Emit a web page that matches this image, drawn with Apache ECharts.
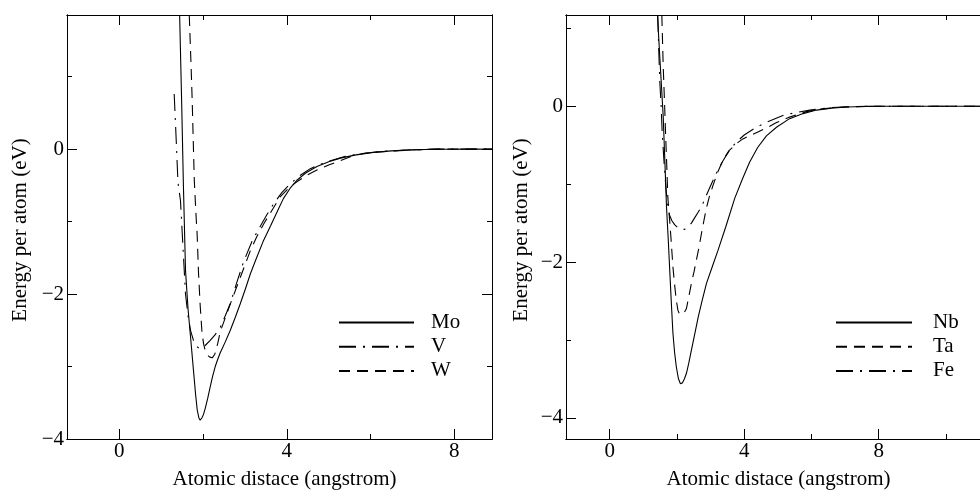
<!DOCTYPE html>
<html>
<head>
<meta charset="utf-8">
<script src="https://cdn.jsdelivr.net/npm/echarts@6/dist/echarts.min.js"></script>
<style>html,body{margin:0;padding:0;background:#fff}#chart{width:980px;height:496px}</style>
</head>
<body>
<div id="chart"></div>
<script>
// ---- data (x: atomic distance in angstrom, y: energy per atom in eV) ----
const moData = [[1.44,1.85],[1.49,0.6],[1.53,-0.5],[1.58,-1.67],[1.64,-2.2],[1.70,-2.59],[1.77,-3.05],[1.82,-3.38],[1.86,-3.6],[1.90,-3.71],[1.93,-3.74],[1.97,-3.71],[2.01,-3.66],[2.05,-3.58],[2.11,-3.44],[2.17,-3.28],[2.23,-3.13],[2.29,-3.0],[2.35,-2.9],[2.41,-2.81],[2.53,-2.66],[2.65,-2.5],[2.77,-2.32],[2.89,-2.13],[3.01,-1.93],[3.13,-1.72],[3.25,-1.54],[3.43,-1.28],[3.61,-1.06],[3.78,-0.85],[3.92,-0.68],[4.08,-0.54],[4.24,-0.43],[4.45,-0.33],[4.72,-0.24],[5.0,-0.175],[5.28,-0.125],[5.65,-0.08],[6.07,-0.045],[6.5,-0.025],[7.0,-0.01],[7.6,-0.003],[8.9,0]];
const vData = [[1.31,0.76],[1.36,0.1],[1.40,-0.46],[1.46,-0.71],[1.52,-1.35],[1.58,-2.0],[1.64,-2.3],[1.70,-2.5],[1.77,-2.64],[1.84,-2.72],[1.91,-2.75],[1.98,-2.74],[2.05,-2.71],[2.17,-2.64],[2.29,-2.56],[2.41,-2.46],[2.53,-2.3],[2.65,-2.13],[2.8,-1.85],[2.97,-1.55],[3.17,-1.27],[3.37,-1.06],[3.53,-0.9],[3.69,-0.75],[3.88,-0.6],[4.08,-0.48],[4.3,-0.37],[4.56,-0.27],[4.8,-0.21],[5.04,-0.16],[5.4,-0.1],[5.8,-0.06],[6.3,-0.03],[7.0,-0.01],[7.6,0],[8.9,0]];
const wData = [[1.67,1.85],[1.71,1.2],[1.74,0.67],[1.79,-0.43],[1.83,-0.9],[1.86,-1.2],[1.89,-1.7],[1.93,-2.15],[1.97,-2.5],[2.01,-2.68],[2.05,-2.78],[2.1,-2.84],[2.16,-2.87],[2.22,-2.88],[2.28,-2.83],[2.35,-2.68],[2.41,-2.52],[2.51,-2.36],[2.61,-2.2],[2.72,-2.03],[2.83,-1.86],[2.98,-1.63],[3.13,-1.4],[3.29,-1.2],[3.45,-1.03],[3.65,-0.84],[3.84,-0.66],[4.04,-0.54],[4.24,-0.45],[4.48,-0.36],[4.72,-0.29],[5.0,-0.22],[5.28,-0.16],[5.55,-0.1],[5.83,-0.06],[6.3,-0.035],[7.0,-0.012],[7.6,0],[8.9,0]];

const nbData = [[1.42,1.17],[1.5,0.55],[1.59,-0.12],[1.64,-0.7],[1.69,-1.3],[1.74,-1.7],[1.78,-2.06],[1.83,-2.5],[1.88,-2.91],[1.93,-3.16],[1.98,-3.34],[2.04,-3.49],[2.1,-3.56],[2.16,-3.55],[2.22,-3.5],[2.28,-3.43],[2.35,-3.3],[2.43,-3.13],[2.53,-2.92],[2.63,-2.71],[2.75,-2.49],[2.88,-2.27],[3.05,-2.06],[3.22,-1.85],[3.45,-1.55],[3.72,-1.18],[3.95,-0.93],[4.16,-0.72],[4.4,-0.53],[4.66,-0.38],[4.96,-0.27],[5.35,-0.16],[5.75,-0.095],[6.15,-0.05],[6.6,-0.025],[7.04,-0.01],[7.6,-0.003],[8.2,0],[11.3,0]];
const taData = [[1.55,1.17],[1.59,0.53],[1.63,0.05],[1.66,-0.33],[1.70,-0.8],[1.73,-1.18],[1.78,-1.45],[1.82,-1.68],[1.88,-2.06],[1.93,-2.29],[1.98,-2.49],[2.03,-2.62],[2.08,-2.67],[2.13,-2.68],[2.2,-2.66],[2.28,-2.6],[2.35,-2.45],[2.43,-2.27],[2.51,-2.12],[2.58,-1.97],[2.66,-1.8],[2.73,-1.63],[2.81,-1.45],[2.88,-1.3],[2.97,-1.15],[3.07,-1.02],[3.2,-0.86],[3.37,-0.69],[3.55,-0.57],[3.77,-0.48],[3.96,-0.42],[4.26,-0.36],[4.66,-0.28],[4.96,-0.21],[5.35,-0.14],[5.85,-0.07],[6.3,-0.035],[7.0,-0.01],[7.8,0],[11.3,0]];
const feData = [[1.43,1.17],[1.46,0.7],[1.49,0.31],[1.53,0.0],[1.56,-0.33],[1.61,-0.68],[1.66,-0.98],[1.70,-1.18],[1.74,-1.31],[1.78,-1.4],[1.85,-1.47],[1.93,-1.52],[2.03,-1.56],[2.13,-1.58],[2.23,-1.58],[2.33,-1.55],[2.43,-1.5],[2.53,-1.43],[2.63,-1.36],[2.73,-1.29],[2.83,-1.19],[2.97,-1.05],[3.17,-0.86],[3.37,-0.7],[3.57,-0.56],[3.77,-0.46],[4.0,-0.37],[4.36,-0.27],[4.7,-0.2],[5.15,-0.12],[5.55,-0.08],[5.95,-0.05],[6.5,-0.02],[7.2,-0.005],[8.0,0],[11.3,0]];

// tick labels / tick positions
const xMajorTicks = [0, 4, 8];
const xMinorTicksLeft = [2, 6];
const xMinorTicksRight = [2, 6, 10];
const yMajorTicks = [-4, -2, 0];
const yMinorTicks = [-3, -1, 1];

const leftNames = ['Mo', 'V', 'W'];
const rightNames = ['Nb', 'Ta', 'Fe'];
const xTitle = 'Atomic distace (angstrom)';
const yTitle = 'Energy per atom (eV)';

// ---- styling ----
const FONT = "'Liberation Serif', 'Times New Roman', serif";
const FS = 21;
const SOLID = 'solid';
const DASHED = [11, 7];
const DASHDOT = [17, 7, 2, 7];
const fmt = v => (v < 0 ? '\u2212' + (-v) : String(v));

function axis(kind, grid, pos, min, max, ticks, len, withLabels, name, extra) {
  const a = {
    type: 'value', gridIndex: grid, position: pos, min: min, max: max,
    axisLine: { show: true, onZero: false, lineStyle: { color: '#000', width: 1 } },
    axisTick: { show: true, inside: true, length: len, customValues: ticks, lineStyle: { color: '#000', width: 1 } },
    axisLabel: { show: withLabels, customValues: ticks, formatter: fmt, color: '#000', fontFamily: FONT, fontSize: FS, margin: kind === 'x' ? 2 : 3 },
    splitLine: { show: false }, minorTick: { show: false }, minorSplitLine: { show: false }
  };
  if (name) {
    a.name = name; a.nameLocation = 'middle';
    a.nameTextStyle = { color: '#000', fontFamily: FONT, fontSize: FS };
    Object.assign(a, extra || {});
  }
  return a;
}

const G0 = { xmin: -1.25, xmax: 8.9, ymin: -4, ymax: 1.85 };
const G1 = { xmin: -1.30, xmax: 11.34, ymin: -4.27, ymax: 1.17 };

const xAxes = [
  axis('x', 0, 'bottom', G0.xmin, G0.xmax, xMajorTicks, 10, true, xTitle, { nameGap: 30, nameTextStyle: { color: '#000', fontFamily: FONT, fontSize: FS, padding: [0, 0, 0, 10] } }),
  axis('x', 0, 'bottom', G0.xmin, G0.xmax, xMinorTicksLeft, 5, false),
  axis('x', 0, 'top', G0.xmin, G0.xmax, xMajorTicks, 10, false),
  axis('x', 0, 'top', G0.xmin, G0.xmax, xMinorTicksLeft, 5, false),
  axis('x', 1, 'bottom', G1.xmin, G1.xmax, xMajorTicks, 10, true, xTitle, { nameGap: 30 }),
  axis('x', 1, 'bottom', G1.xmin, G1.xmax, xMinorTicksRight, 5, false),
  axis('x', 1, 'top', G1.xmin, G1.xmax, xMajorTicks, 10, false),
  axis('x', 1, 'top', G1.xmin, G1.xmax, xMinorTicksRight, 5, false)
];
const yAxes = [
  axis('y', 0, 'left', G0.ymin, G0.ymax, yMajorTicks, 10, true, yTitle, { nameGap: 36, nameTextStyle: { color: '#000', fontFamily: FONT, fontSize: FS, padding: [0, 6, 0, 0] } }),
  axis('y', 0, 'left', G0.ymin, G0.ymax, yMinorTicks, 5, false),
  axis('y', 0, 'right', G0.ymin, G0.ymax, yMajorTicks, 10, false),
  axis('y', 0, 'right', G0.ymin, G0.ymax, yMinorTicks, 5, false),
  axis('y', 1, 'left', G1.ymin, G1.ymax, yMajorTicks, 10, true, yTitle, { nameGap: 34, nameTextStyle: { color: '#000', fontFamily: FONT, fontSize: FS, padding: [0, 6, 0, 0] } }),
  axis('y', 1, 'left', G1.ymin, G1.ymax, yMinorTicks, 5, false),
  axis('y', 1, 'right', G1.ymin, G1.ymax, yMajorTicks, 10, false),
  axis('y', 1, 'right', G1.ymin, G1.ymax, yMinorTicks, 5, false)
];

function line(name, data, type, xi, yi) {
  return {
    name: name, type: 'line', data: data, xAxisIndex: xi, yAxisIndex: yi,
    symbol: 'none', showSymbol: false, smooth: false, clip: true,
    lineStyle: { color: '#000', width: 1.1, type: type },
    itemStyle: { color: '#000' },
    emphasis: { disabled: true }
  };
}

const legendCommon = {
  orient: 'vertical', padding: 0, itemHeight: 14, itemGap: 3.2, selectedMode: false,
  itemStyle: { opacity: 0, color: 'transparent', borderWidth: 0 }
};

const option = {
  animation: false,
  backgroundColor: '#fff',
  grid: [
    { left: 67, top: 15, width: 425, height: 424, outerBoundsMode: 'none' },
    { left: 566, top: 15, width: 425, height: 424, outerBoundsMode: 'none' }
  ],
  xAxis: xAxes,
  yAxis: yAxes,
  legend: [
    Object.assign({}, legendCommon, { data: leftNames, left: 338, top: 312, itemWidth: 75,
      textStyle: { color: '#000', fontFamily: FONT, fontSize: FS, lineHeight: 21, padding: [0, 0, 0, 12] } }),
    Object.assign({}, legendCommon, { data: rightNames, left: 835, top: 312, itemWidth: 76,
      textStyle: { color: '#000', fontFamily: FONT, fontSize: FS, lineHeight: 21, padding: [0, 0, 0, 16] } })
  ],
  series: [
    line('Mo', moData, SOLID, 0, 0),
    line('V', vData, DASHDOT, 0, 0),
    line('W', wData, DASHED, 0, 0),
    line('Nb', nbData, SOLID, 4, 4),
    line('Ta', taData, DASHED, 4, 4),
    line('Fe', feData, DASHDOT, 4, 4)
  ]
};

const chart = echarts.init(document.getElementById('chart'), null, { renderer: 'canvas' });
chart.setOption(option);
</script>
</body>
</html>
